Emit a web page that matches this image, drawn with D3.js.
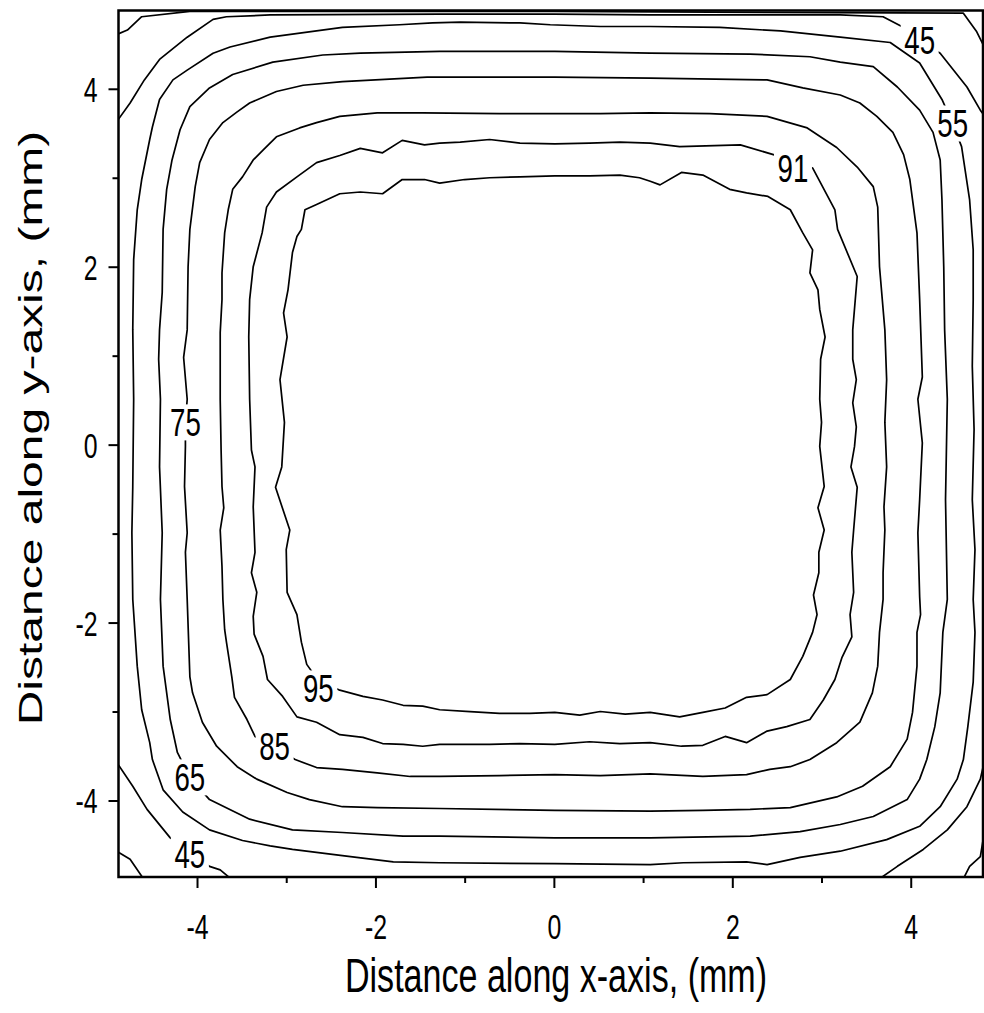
<!DOCTYPE html>
<html>
<head>
<meta charset="utf-8">
<script src="https://cdn.jsdelivr.net/npm/d3@7"></script>
<style>
  body { margin: 0; background: #fff; }
  text { font-family: "Liberation Sans", Arial, sans-serif; fill: #000; }
</style>
</head>
<body>
<svg id="chart" width="984" height="1013"></svg>
<script>
// ---- axis ticks (mm) ----
const xTicksMajor = [-4, -2, 0, 2, 4];
const xTicksMinor = [-3, -1, 1, 3];
const yTicksMajor = [-4, -2, 0, 2, 4];
const yTicksMinor = [-3, -1, 1, 3];
const xTitle = "Distance along x-axis, (mm)";
const yTitle = "Distance along y-axis, (mm)";

// ---- contour lines, [x, y] in mm ----
const c95 = [[-2.79,2.64],[-2.66,2.70],[-2.40,2.82],[-2.17,2.84],[-1.92,2.82],[-1.70,2.98],[-1.45,2.98],[-1.28,2.94],[-1.00,2.98],[-0.72,3.00],[-0.38,3.01],[0.01,3.02],[0.40,3.02],[0.74,3.03],[0.96,3.00],[1.08,2.96],[1.19,2.92],[1.43,3.06],[1.67,3.03],[1.97,2.87],[2.16,2.83],[2.40,2.79],[2.65,2.64],[2.79,2.38],[2.90,2.19],[2.87,1.93],[2.96,1.74],[2.98,1.52],[3.04,1.21],[2.99,0.96],[2.98,0.51],[3.00,0.25],[2.98,-0.02],[3.03,-0.47],[2.96,-0.71],[3.03,-0.96],[2.97,-1.21],[2.97,-1.44],[2.91,-1.69],[2.95,-1.91],[2.90,-2.11],[2.79,-2.38],[2.65,-2.64],[2.39,-2.81],[2.16,-2.84],[1.92,-2.96],[1.67,-3.01],[1.41,-3.06],[1.08,-3.01],[0.80,-3.03],[0.52,-3.00],[0.29,-3.04],[0.01,-3.01],[-0.27,-3.02],[-0.61,-3.02],[-0.94,-3.00],[-1.28,-2.98],[-1.47,-2.94],[-1.69,-2.93],[-1.92,-2.87],[-2.14,-2.83],[-2.40,-2.76],[-2.65,-2.64],[-2.77,-2.47],[-2.83,-2.22],[-2.88,-1.91],[-2.99,-1.66],[-3.00,-1.18],[-2.96,-0.96],[-3.12,-0.48],[-3.05,-0.25],[-3.02,0.25],[-3.07,0.73],[-2.99,1.21],[-3.03,1.48],[-2.98,1.74],[-2.93,2.16],[-2.88,2.34],[-2.83,2.42]];

const c91 = [[-3.27,2.38],[-3.22,2.67],[-3.11,2.84],[-2.88,3.01],[-2.66,3.17],[-2.40,3.25],[-2.17,3.33],[-1.92,3.28],[-1.70,3.42],[-1.45,3.37],[-1.28,3.39],[-1.05,3.40],[-0.72,3.43],[-0.38,3.39],[0.01,3.38],[0.40,3.39],[0.74,3.40],[1.08,3.39],[1.41,3.35],[2.09,3.37],[2.46,3.26],[2.68,3.19],[2.90,3.11],[3.15,2.64],[3.18,2.42],[3.40,1.89],[3.35,1.29],[3.35,0.96],[3.39,0.73],[3.35,0.47],[3.39,0.20],[3.37,-0.02],[3.33,-0.25],[3.40,-0.48],[3.36,-0.96],[3.34,-1.21],[3.36,-1.66],[3.32,-1.91],[3.34,-2.16],[3.23,-2.39],[3.15,-2.64],[3.02,-2.87],[2.87,-3.09],[2.61,-3.17],[2.39,-3.22],[2.16,-3.35],[1.92,-3.28],[1.67,-3.38],[1.43,-3.39],[1.08,-3.35],[0.74,-3.36],[0.40,-3.34],[0.01,-3.37],[-0.38,-3.36],[-0.72,-3.37],[-1.05,-3.37],[-1.28,-3.37],[-1.47,-3.39],[-1.69,-3.37],[-1.92,-3.36],[-2.14,-3.29],[-2.40,-3.26],[-2.66,-3.12],[-2.88,-3.06],[-3.04,-2.83],[-3.21,-2.64],[-3.26,-2.38],[-3.36,-2.13],[-3.37,-1.93],[-3.33,-1.66],[-3.39,-1.44],[-3.35,-1.21],[-3.37,-0.70],[-3.35,-0.25],[-3.39,-0.06],[-3.41,0.51],[-3.42,1.21],[-3.41,1.63],[-3.37,2.00]];

const c85 = [[-3.72,1.63],[-3.72,1.93],[-3.69,2.38],[-3.65,2.64],[-3.60,2.87],[-3.49,3.01],[-3.37,3.20],[-3.26,3.31],[-3.11,3.46],[-2.85,3.56],[-2.66,3.62],[-2.40,3.69],[-1.98,3.73],[-1.47,3.73],[-0.61,3.72],[0.01,3.72],[0.52,3.72],[1.08,3.73],[1.75,3.72],[2.39,3.69],[2.84,3.56],[3.17,3.34],[3.40,3.12],[3.58,2.90],[3.63,2.67],[3.65,2.00],[3.71,1.29],[3.73,0.73],[3.71,0.25],[3.73,-0.25],[3.70,-0.70],[3.71,-0.96],[3.69,-1.44],[3.69,-1.74],[3.65,-2.11],[3.63,-2.49],[3.57,-2.79],[3.43,-3.12],[3.17,-3.35],[2.87,-3.54],[2.65,-3.62],[2.42,-3.65],[2.16,-3.71],[1.67,-3.73],[1.08,-3.70],[0.52,-3.72],[0.01,-3.71],[-0.61,-3.72],[-1.28,-3.73],[-1.61,-3.73],[-1.98,-3.69],[-2.37,-3.65],[-2.66,-3.63],[-2.90,-3.54],[-3.13,-3.40],[-3.35,-3.28],[-3.44,-3.09],[-3.58,-2.84],[-3.61,-2.61],[-3.67,-2.22],[-3.69,-2.08],[-3.71,-1.74],[-3.72,-1.37],[-3.74,-0.96],[-3.70,-0.71],[-3.72,-0.47],[-3.73,-0.06],[-3.74,0.51],[-3.74,1.26]];

const c75 = [[-4.11,1.29],[-4.10,2.00],[-4.08,2.42],[-4.02,2.90],[-3.97,3.17],[-3.86,3.43],[-3.71,3.62],[-3.55,3.74],[-3.41,3.84],[-3.11,3.97],[-2.81,4.04],[-2.37,4.08],[-1.42,4.13],[-0.61,4.13],[0.01,4.13],[1.08,4.12],[2.39,4.10],[2.79,4.01],[3.21,3.93],[3.43,3.84],[3.62,3.69],[3.80,3.51],[3.92,3.26],[3.99,2.98],[4.07,2.38],[4.10,1.63],[4.13,0.76],[4.08,0.51],[4.13,0.02],[4.10,-0.62],[4.08,-0.99],[4.10,-1.71],[4.11,-1.91],[4.07,-2.11],[4.07,-2.49],[4.02,-3.01],[3.96,-3.31],[3.77,-3.62],[3.46,-3.84],[3.17,-3.96],[2.65,-4.08],[2.20,-4.10],[1.67,-4.11],[1.08,-4.12],[0.01,-4.11],[-1.28,-4.09],[-1.98,-4.08],[-2.37,-4.07],[-2.74,-3.99],[-2.99,-3.91],[-3.33,-3.76],[-3.55,-3.62],[-3.78,-3.39],[-3.94,-3.12],[-4.05,-2.79],[-4.08,-2.61],[-4.11,-1.74],[-4.13,-1.21],[-4.11,-0.99],[-4.14,-0.47],[-4.13,-0.02],[-4.13,0.25],[-4.11,0.51],[-4.15,0.98]];

const c65 = [[-4.42,1.29],[-4.39,1.71],[-4.38,2.42],[-4.34,2.87],[-4.28,3.20],[-4.19,3.54],[-4.08,3.80],[-3.86,4.01],[-3.60,4.16],[-3.15,4.30],[-2.59,4.38],[-2.17,4.40],[-1.28,4.42],[0.01,4.42],[1.08,4.40],[2.20,4.39],[2.87,4.36],[3.21,4.30],[3.58,4.25],[3.85,4.02],[4.10,3.76],[4.25,3.51],[4.33,3.20],[4.35,2.75],[4.37,2.00],[4.38,1.29],[4.41,0.51],[4.39,-0.62],[4.41,-1.74],[4.36,-2.11],[4.33,-2.79],[4.27,-3.17],[4.18,-3.54],[4.10,-3.76],[3.96,-3.99],[3.58,-4.18],[3.21,-4.27],[2.76,-4.35],[2.20,-4.40],[1.08,-4.42],[0.01,-4.42],[-1.28,-4.40],[-1.69,-4.40],[-2.37,-4.36],[-2.93,-4.33],[-3.41,-4.21],[-3.86,-3.99],[-4.08,-3.74],[-4.22,-3.46],[-4.30,-3.09],[-4.38,-2.49],[-4.41,-1.74],[-4.39,-0.99],[-4.42,-0.25],[-4.41,0.51],[-4.43,0.96]];

const c55 = [[-4.72,1.29],[-4.71,2.08],[-4.67,2.64],[-4.62,2.98],[-4.53,3.43],[-4.50,3.57],[-4.42,3.88],[-4.27,4.10],[-4.11,4.21],[-3.82,4.40],[-3.63,4.47],[-3.18,4.58],[-2.37,4.69],[-1.73,4.72],[-1.36,4.74],[-1.05,4.75],[-0.38,4.74],[-0.04,4.72],[0.52,4.70],[1.08,4.70],[1.86,4.69],[2.54,4.65],[3.21,4.58],[3.77,4.52],[4.10,4.29],[4.35,3.88],[4.47,3.61],[4.57,3.35],[4.66,2.75],[4.70,2.19],[4.70,1.63],[4.69,0.88],[4.71,0.17],[4.69,-0.62],[4.72,-1.18],[4.70,-1.74],[4.72,-2.11],[4.70,-2.67],[4.64,-3.17],[4.59,-3.54],[4.52,-3.76],[4.33,-4.07],[4.10,-4.29],[3.73,-4.44],[3.21,-4.57],[2.76,-4.64],[2.39,-4.72],[2.16,-4.69],[1.45,-4.70],[1.08,-4.72],[0.01,-4.71],[-1.28,-4.70],[-1.80,-4.69],[-2.37,-4.62],[-2.93,-4.55],[-3.18,-4.51],[-3.49,-4.45],[-3.86,-4.33],[-4.16,-4.13],[-4.38,-3.88],[-4.50,-3.54],[-4.53,-3.35],[-4.62,-2.98],[-4.67,-2.49],[-4.72,-1.74],[-4.73,-0.99],[-4.72,-0.47],[-4.71,0.51]];

// outer levels leave the plotted square, so they are open pieces
const c45Top = [[-4.90,3.63],[-4.75,3.84],[-4.59,4.10],[-4.42,4.33],[-4.11,4.58],[-3.82,4.78],[-3.67,4.81],[-3.18,4.83],[-1.28,4.84],[0.00,4.84],[1.08,4.83],[3.21,4.83],[3.69,4.81],[3.90,4.70],[4.10,4.55],[4.33,4.40],[4.63,4.02],[4.78,3.76],[4.83,3.69]];
const c45BottomLeft = [[-4.90,-3.57],[-4.72,-3.84],[-4.56,-4.10],[-4.30,-4.42],[-4.08,-4.57],[-3.86,-4.74],[-3.74,-4.78],[-3.62,-4.88]];
const c45BottomRight = [[3.65,-4.88],[3.85,-4.74],[4.14,-4.55],[4.41,-4.33],[4.63,-4.07],[4.78,-3.76],[4.83,-3.54]];
const c35Top = [[-4.90,4.61],[-4.78,4.66],[-4.62,4.81],[-4.08,4.87],[0.00,4.87],[4.59,4.85],[4.74,4.64],[4.83,4.46]];
const c35BottomLeft = [[-4.90,-4.57],[-4.75,-4.66],[-4.60,-4.88]];
const c35BottomRight = [[4.59,-4.88],[4.66,-4.74],[4.78,-4.63],[4.83,-4.33]];

const contourLines = [
  { level: 95, points: c95, closed: true },
  { level: 91, points: c91, closed: true },
  { level: 85, points: c85, closed: true },
  { level: 75, points: c75, closed: true },
  { level: 65, points: c65, closed: true },
  { level: 55, points: c55, closed: true },
  { level: 45, points: c45Top, closed: false },
  { level: 45, points: c45BottomLeft, closed: false },
  { level: 45, points: c45BottomRight, closed: false },
  { level: 35, points: c35Top, closed: false },
  { level: 35, points: c35BottomLeft, closed: false },
  { level: 35, points: c35BottomRight, closed: false }
];

// in-line contour labels (mm)
const contourLabels = [
  { level: 45, x: 4.10, y: 4.55 },
  { level: 55, x: 4.47, y: 3.61 },
  { level: 91, x: 2.68, y: 3.11 },
  { level: 75, x: -4.13, y: 0.25 },
  { level: 95, x: -2.64, y: -2.74 },
  { level: 85, x: -3.13, y: -3.39 },
  { level: 65, x: -4.08, y: -3.74 },
  { level: 45, x: -4.08, y: -4.60 }
];

// ---- layout ----
const W = 984, H = 1013;
const plot = { left: 118.5, right: 983, top: 10.5, bottom: 877 };
const squeeze = 0.71;          // glyph width factor of the lettering
const labelSize = 39, labelHalfW = 19, labelHalfH = 18;
const tickFont = 35;

const svg = d3.select("#chart");
const x = d3.scaleLinear().domain([-4.88, 4.81]).range([plot.left, plot.right]);
const y = d3.scaleLinear().domain([-4.86, 4.88]).range([plot.bottom, plot.top]);

const defs = svg.append("defs");
defs.append("clipPath").attr("id", "plot-clip")
  .append("rect")
  .attr("x", plot.left).attr("y", plot.top)
  .attr("width", plot.right - plot.left).attr("height", plot.bottom - plot.top);

// each level gets a mask that opens a gap where its own labels sit
const levels = Array.from(new Set(contourLines.map(d => d.level)));
levels.forEach(lv => {
  const m = defs.append("mask").attr("id", "gap-" + lv)
    .attr("maskUnits", "userSpaceOnUse")
    .attr("x", 0).attr("y", 0).attr("width", W).attr("height", H);
  m.append("rect").attr("x", 0).attr("y", 0).attr("width", W).attr("height", H).attr("fill", "#fff");
  contourLabels.filter(l => l.level === lv).forEach(l => {
    m.append("rect")
      .attr("x", x(l.x) - labelHalfW).attr("y", y(l.y) - labelHalfH)
      .attr("width", 2 * labelHalfW).attr("height", 2 * labelHalfH)
      .attr("fill", "#000");
  });
});

const lineOpen = d3.line().x(d => x(d[0])).y(d => y(d[1])).curve(d3.curveLinear);
const lineClosed = d3.line().x(d => x(d[0])).y(d => y(d[1])).curve(d3.curveLinearClosed);

const gLines = svg.append("g").attr("clip-path", "url(#plot-clip)");
gLines.selectAll("path")
  .data(contourLines)
  .join("path")
  .attr("d", d => (d.closed ? lineClosed : lineOpen)(d.points))
  .attr("mask", d => `url(#gap-${d.level})`)
  .attr("fill", "none")
  .attr("stroke", "#000")
  .attr("stroke-width", 1.7)
  .attr("stroke-linejoin", "round");

svg.append("g").selectAll("text")
  .data(contourLabels)
  .join("text")
  .attr("transform", d => `translate(${x(d.x)},${y(d.y) + labelSize * 0.358}) scale(${squeeze},1)`)
  .attr("text-anchor", "middle")
  .attr("font-size", labelSize)
  .text(d => String(d.level));

// ---- axes ----
const fmt = d => String(d);
const gx = svg.append("g").attr("transform", `translate(0,${plot.bottom})`);
gx.call(d3.axisBottom(x).tickValues(xTicksMajor).tickSize(11).tickFormat(fmt));
gx.append("g").call(d3.axisBottom(x).tickValues(xTicksMinor).tickSize(6).tickFormat(""));
gx.selectAll(".domain").remove();
gx.selectAll("line").attr("stroke", "#000").attr("stroke-width", 2);
gx.selectAll("text")
  .attr("y", null).attr("dy", null)
  .attr("transform", `translate(0,62) scale(${squeeze},1)`)
  .attr("font-size", tickFont)
  .attr("font-family", "Liberation Sans, Arial, sans-serif")
  .attr("fill", "#000");

const gy = svg.append("g").attr("transform", `translate(${plot.left},0)`);
gy.call(d3.axisLeft(y).tickValues(yTicksMajor).tickSize(10).tickFormat(fmt));
gy.append("g").call(d3.axisLeft(y).tickValues(yTicksMinor).tickSize(6).tickFormat(""));
gy.selectAll(".domain").remove();
gy.selectAll("line").attr("stroke", "#000").attr("stroke-width", 2);
gy.selectAll("text")
  .attr("x", null).attr("dy", null)
  .attr("transform", `translate(-21,12.5) scale(${squeeze},1)`)
  .attr("text-anchor", "end")
  .attr("font-size", tickFont)
  .attr("font-family", "Liberation Sans, Arial, sans-serif")
  .attr("fill", "#000");

// frame
svg.append("rect")
  .attr("x", plot.left).attr("y", plot.top)
  .attr("width", plot.right - plot.left).attr("height", plot.bottom - plot.top)
  .attr("fill", "none").attr("stroke", "#000").attr("stroke-width", 2.5);

// titles
svg.append("text")
  .attr("transform", `translate(556,992) scale(${squeeze},1)`)
  .attr("text-anchor", "middle")
  .attr("font-size", 48)
  .text(xTitle);

svg.append("text")
  .attr("transform", `translate(42,428) scale(${squeeze},1) rotate(-90)`)
  .attr("text-anchor", "middle")
  .attr("font-size", 48)
  .text(yTitle);
</script>
</body>
</html>
